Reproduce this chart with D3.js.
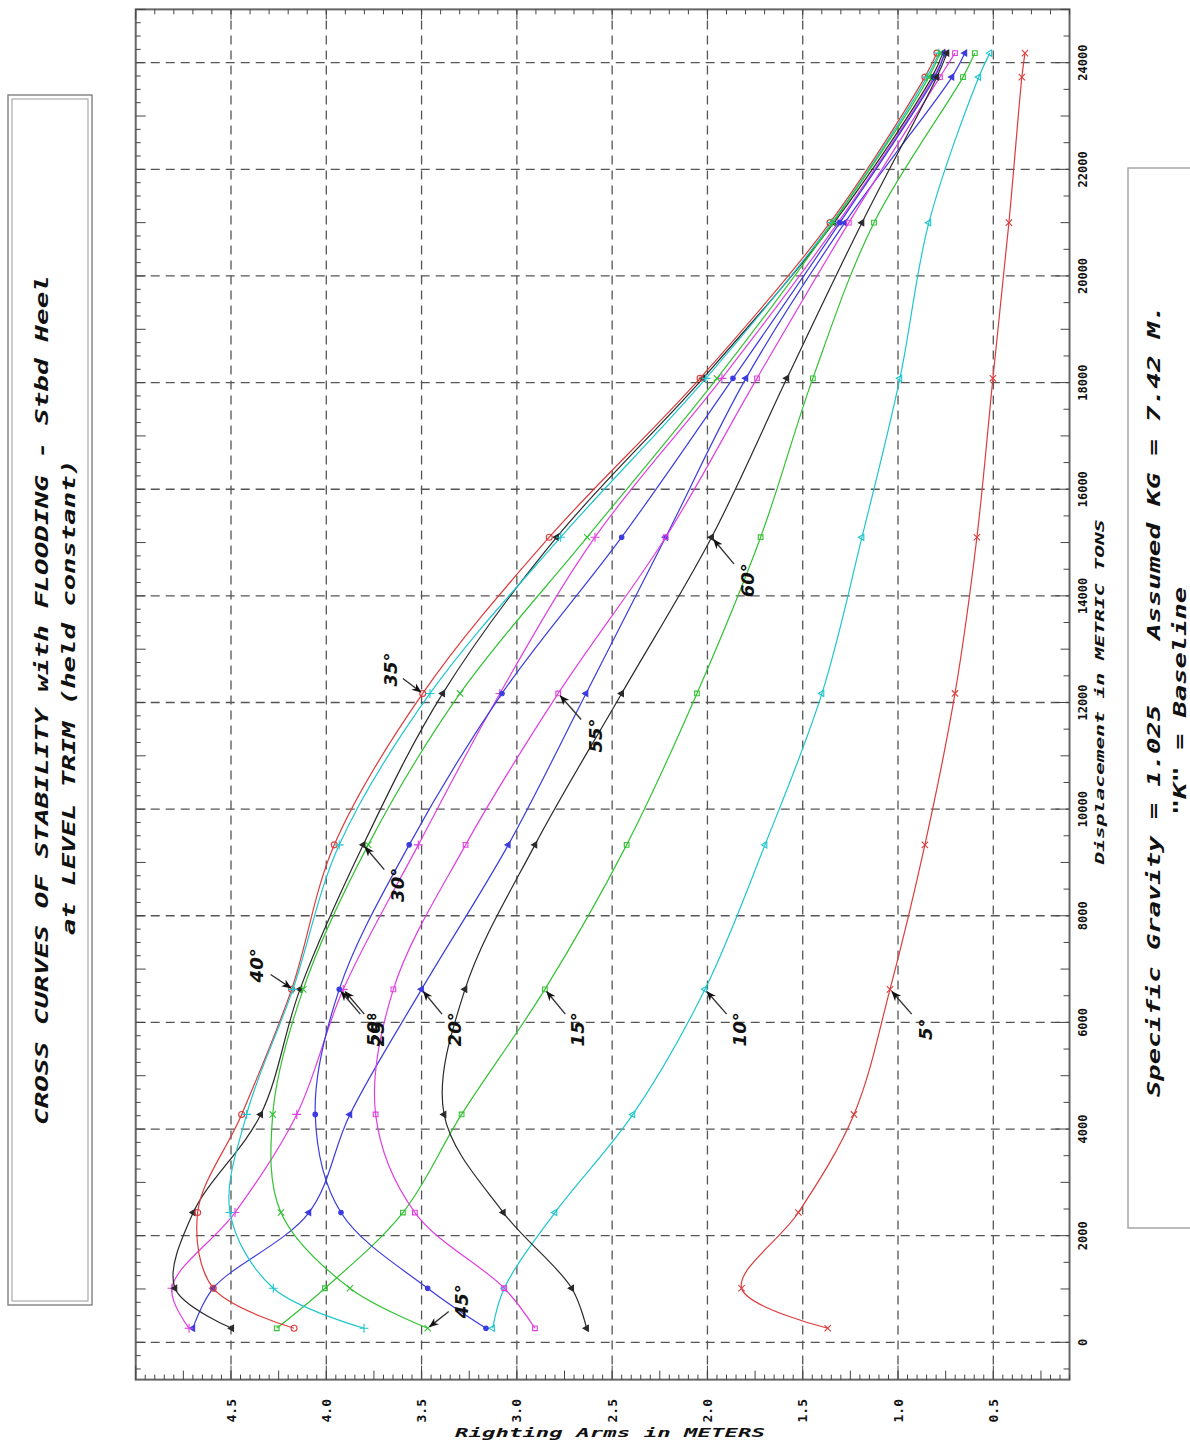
<!DOCTYPE html>
<html><head><meta charset="utf-8">
<script src="https://cdn.jsdelivr.net/npm/d3@7"></script>
<style>body{margin:0;background:#fff}svg{display:block}</style>
</head><body>
<script>
// ---------------- DATA ----------------
const displacement = [263, 1014, 2434, 4274, 6620, 9330, 12170, 15100, 18080, 21000, 23730, 24180];
const angles = [5, 10, 15, 20, 25, 30, 35, 40, 45, 50, 55, 60];
const ra5  = [1.369, 1.821, 1.523, 1.231, 1.042, 0.859, 0.701, 0.586, 0.502, 0.418, 0.350, 0.334];
const ra10 = [3.127, 3.066, 2.800, 2.391, 2.013, 1.698, 1.399, 1.189, 0.990, 0.838, 0.576, 0.518];
const ra15 = [4.260, 4.007, 3.598, 3.290, 2.853, 2.424, 2.055, 1.721, 1.447, 1.126, 0.659, 0.597];
const ra20 = [4.700, 4.593, 4.091, 3.876, 3.500, 3.045, 2.637, 2.219, 1.798, 1.279, 0.717, 0.649];
const ra25 = [4.720, 4.810, 4.479, 4.155, 3.911, 3.517, 3.089, 2.590, 1.924, 1.315, 0.812, 0.754];
const ra30 = [4.496, 4.794, 4.698, 4.344, 4.138, 3.806, 3.389, 2.791, 2.024, 1.336, 0.822, 0.765];
const ra35 = [4.169, 4.593, 4.675, 4.444, 4.182, 3.958, 3.494, 2.830, 2.039, 1.357, 0.859, 0.796];
const ra40 = [3.802, 4.278, 4.505, 4.418, 4.175, 3.932, 3.456, 2.770, 2.008, 1.347, 0.848, 0.785];
const ra45 = [3.468, 3.876, 4.238, 4.281, 4.121, 3.780, 3.298, 2.631, 1.950, 1.342, 0.838, 0.780];
const ra50 = [3.162, 3.468, 3.923, 4.058, 3.932, 3.565, 3.078, 2.450, 1.866, 1.305, 0.806, 0.754];
const ra55 = [2.905, 3.066, 3.535, 3.741, 3.648, 3.269, 2.783, 2.219, 1.740, 1.258, 0.780, 0.701];
const ra60 = [2.634, 2.712, 3.071, 3.382, 3.272, 2.905, 2.450, 1.978, 1.583, 1.189, 0.796, 0.743];
const displacementTicks = [0, 2000, 4000, 6000, 8000, 10000, 12000, 14000, 16000, 18000, 20000, 22000, 24000];
const armTicks = [0.5, 1.0, 1.5, 2.0, 2.5, 3.0, 3.5, 4.0, 4.5];
const titleLine1 = "CROSS CURVES OF STABILITY with FLOODING - Stbd Heel";
const titleLine2 = "at LEVEL TRIM (held constant)";
const specA = "Specific Gravity = 1.025";
const specB = "Assumed KG = 7.42 M.";
const specC = "\"K\" = Baseline";
const xTitle = "Displacement in METRIC TONS";
const yTitle = "Righting Arms in METERS";

const seriesValues = [ra5, ra10, ra15, ra20, ra25, ra30, ra35, ra40, ra45, ra50, ra55, ra60];
const series = angles.map((a, k) => ({angle: a, values: seriesValues[k]}));

// ---------------- STYLE / LAYOUT ----------------
const RED = "#dc3c3c", CYAN = "#1fc6ce", GREEN = "#34c234", BLACK = "#2a2a2a", MAG = "#e03fe0", BLUE = "#3b3be0";
const style = {
  5:  {c: RED,   s: d3.symbolTimes,     fill: false},
  10: {c: CYAN,  s: d3.symbolTriangle2, fill: false},
  15: {c: GREEN, s: d3.symbolSquare2,   fill: false},
  20: {c: BLUE,  s: d3.symbolTriangle,  fill: true},
  25: {c: MAG,   s: d3.symbolPlus,      fill: false},
  30: {c: BLACK, s: d3.symbolTriangle,  fill: true},
  35: {c: RED,   s: d3.symbolCircle,    fill: false},
  40: {c: CYAN,  s: d3.symbolPlus,      fill: false},
  45: {c: GREEN, s: d3.symbolTimes,     fill: false},
  50: {c: BLUE,  s: d3.symbolCircle,    fill: true},
  55: {c: MAG,   s: d3.symbolSquare2,   fill: false},
  60: {c: BLACK, s: d3.symbolTriangle,  fill: true}
};
// angle label layout: which point the arrow targets, page-space offset of label centre
const labelLayout = [
  {a: 5,  i: 4, dx: 35,  dy: 40}, {a: 10, i: 4, dx: 35, dy: 40},
  {a: 15, i: 4, dx: 33,  dy: 40}, {a: 20, i: 4, dx: 33, dy: 40},
  {a: 25, i: 4, dx: 34,  dy: 40}, {a: 50, i: 4, dx: 34, dy: 40},
  {a: 30, i: 5, dx: 34,  dy: 40}, {a: 35, i: 6, dx: -32, dy: -24},
  {a: 40, i: 4, dx: -36, dy: -24}, {a: 45, i: 0, dx: 34, dy: -27},
  {a: 55, i: 6, dx: 37,  dy: 42}, {a: 60, i: 7, dx: 36, dy: 43}
];

const W = 1190, H = 1441;
const svg = d3.select("body").append("svg").attr("width", W).attr("height", H)
  .style("font-family", "'DejaVu Sans Mono', monospace");
svg.append("defs").append("marker").attr("id", "ah").attr("viewBox", "0 0 10 10")
  .attr("refX", 9).attr("refY", 5).attr("markerWidth", 10).attr("markerHeight", 10)
  .attr("markerUnits", "userSpaceOnUse").attr("orient", "auto")
  .append("path").attr("d", "M0,1 L10,5 L0,9 L3,5 Z").attr("fill", "#111");

// landscape group (chart drawn normally, then rotated onto the portrait page)
const g = svg.append("g").attr("transform", `translate(0,${H}) rotate(-90)`);

const x = d3.scaleLinear().domain([0, 24000]).range([98.7, 1378.3]);
const y = d3.scaleLinear().domain([0.5, 4.5]).range([993.3, 231]);
const fx0 = x(-700), fx1 = x(25000), fy0 = y(5.0), fy1 = y(0.1);

// grid
const grid = g.append("g").attr("stroke", "#555").attr("stroke-width", 1.3).attr("stroke-dasharray", "9,6");
displacementTicks.forEach(t => grid.append("line").attr("x1", x(t)).attr("x2", x(t)).attr("y1", fy0).attr("y2", fy1));
armTicks.forEach(t => grid.append("line").attr("x1", fx0).attr("x2", fx1).attr("y1", y(t)).attr("y2", y(t)));

// frame
g.append("rect").attr("x", fx0).attr("y", fy0).attr("width", fx1 - fx0).attr("height", fy1 - fy0)
  .attr("fill", "none").attr("stroke", "#666").attr("stroke-width", 2);

// minor ticks
const tk = g.append("g").attr("stroke", "#444").attr("stroke-width", 1);
d3.range(-500, 25001, 500).forEach(t => {
  const L = t % 2000 === 0 ? 14 : (t % 1000 === 0 ? 9 : 6);
  tk.append("line").attr("x1", x(t)).attr("x2", x(t)).attr("y1", fy1).attr("y2", fy1 - L);
});
d3.range(-500, 25001, 250).forEach(t => {
  const L = t % 1000 === 0 ? 10 : 5;
  tk.append("line").attr("x1", x(t)).attr("x2", x(t)).attr("y1", fy0).attr("y2", fy0 + L);
});
d3.range(2, 101).map(k => k * 0.05).forEach(v => {
  const k = Math.round(v * 100);
  const L = k % 50 === 0 ? 14 : (k % 25 === 0 ? 9 : 5);
  tk.append("line").attr("x1", fx0).attr("x2", fx0 + L).attr("y1", y(v)).attr("y2", y(v));
});
d3.range(1, 51).map(k => k * 0.1).forEach(v => {
  const k = Math.round(v * 10);
  const L = k % 5 === 0 ? 10 : 5;
  tk.append("line").attr("x1", fx1).attr("x2", fx1 - L).attr("y1", y(v)).attr("y2", y(v));
});

// tick labels
g.append("g").selectAll("text").data(displacementTicks).join("text")
  .attr("x", d => x(d)).attr("y", 1087).attr("text-anchor", "middle")
  .attr("font-size", 12).attr("font-weight", "bold").attr("fill", "#111").text(d => d);
g.append("g").selectAll("text").data(armTicks).join("text")
  .attr("x", 42).attr("y", d => y(d)).attr("text-anchor", "end").attr("dominant-baseline", "central")
  .attr("font-size", 13).attr("font-weight", "bold").attr("fill", "#111").text(d => d.toFixed(1));

// axis titles
g.append("text").attr("x", 749).attr("y", 1104).attr("text-anchor", "middle")
  .attr("font-size", 12).attr("font-weight", "bold").attr("font-style", "italic")
  .attr("textLength", 345).attr("lengthAdjust", "spacingAndGlyphs").attr("fill", "#111").text(xTitle);
svg.append("text").attr("x", 610).attr("y", 1437).attr("text-anchor", "middle")
  .attr("font-size", 12).attr("font-weight", "bold").attr("font-style", "italic")
  .attr("textLength", 310).attr("lengthAdjust", "spacingAndGlyphs").attr("fill", "#111").text(yTitle);

// curves
const line = d3.line().x(d => x(d[0])).y(d => y(d[1])).curve(d3.curveCatmullRom.alpha(0.5));
const curves = g.append("g");
series.forEach(s => {
  const st = style[s.angle];
  const pts = displacement.map((d, i) => [d, s.values[i]]);
  curves.append("path").attr("d", line(pts)).attr("fill", "none").attr("stroke", st.c).attr("stroke-width", 1.2);
  curves.append("g").selectAll("path").data(pts).join("path")
    .attr("transform", d => `translate(${x(d[0])},${y(d[1])})`)
    .attr("d", d3.symbol().type(st.s).size(st.fill ? 16 : 28))
    .attr("fill", st.fill ? st.c : "none").attr("stroke", st.c).attr("stroke-width", 1.1);
});

// angle labels with arrows
const lab = g.append("g");
labelLayout.forEach(L => {
  const s = series.find(q => q.angle === L.a);
  const px = x(displacement[L.i]), py = y(s.values[L.i]);
  const ldx = -L.dy, ldy = L.dx; // page offset -> landscape offset
  lab.append("line").attr("x1", px + ldx * 0.62).attr("y1", py + ldy * 0.62)
    .attr("x2", px + ldx * 0.06).attr("y2", py + ldy * 0.06)
    .attr("stroke", "#333").attr("stroke-width", 1.4).attr("marker-end", "url(#ah)");
  lab.append("text").attr("x", px + ldx).attr("y", py + ldy)
    .attr("text-anchor", "middle").attr("dominant-baseline", "central")
    .attr("font-family", "'DejaVu Sans', sans-serif").attr("font-size", 18).attr("font-weight", "bold")
    .attr("font-style", "italic").attr("fill", "#111").text(L.a + "°");
});

// title box (page coordinates)
svg.append("rect").attr("x", 8).attr("y", 95).attr("width", 84).attr("height", 1210)
  .attr("fill", "none").attr("stroke", "#888").attr("stroke-width", 1.5);
svg.append("rect").attr("x", 12).attr("y", 99).attr("width", 76).attr("height", 1202)
  .attr("fill", "none").attr("stroke", "#aaa").attr("stroke-width", 1.2);
const tt = g.append("g").attr("font-weight", "bold").attr("font-style", "italic").attr("fill", "#111")
  .attr("font-size", 18).attr("text-anchor", "middle");
tt.append("text").attr("x", 741).attr("y", 48).attr("textLength", 850).attr("lengthAdjust", "spacingAndGlyphs").text(titleLine1);
tt.append("text").attr("x", 744).attr("y", 75).attr("textLength", 476).attr("lengthAdjust", "spacingAndGlyphs").text(titleLine2);

// spec box
svg.append("rect").attr("x", 1128).attr("y", 168).attr("width", 80).attr("height", 1060)
  .attr("fill", "none").attr("stroke", "#999").attr("stroke-width", 1.3);
const sp = g.append("g").attr("font-weight", "bold").attr("font-style", "italic").attr("fill", "#111").attr("font-size", 18);
sp.append("text").attr("x", H - 1097).attr("y", 1160).attr("textLength", 392).attr("lengthAdjust", "spacingAndGlyphs").text(specA);
sp.append("text").attr("x", H - 640).attr("y", 1160).attr("textLength", 335).attr("lengthAdjust", "spacingAndGlyphs").text(specB);
sp.append("text").attr("x", H - 815).attr("y", 1186).attr("textLength", 228).attr("lengthAdjust", "spacingAndGlyphs").text(specC);
</script>
</body></html>
